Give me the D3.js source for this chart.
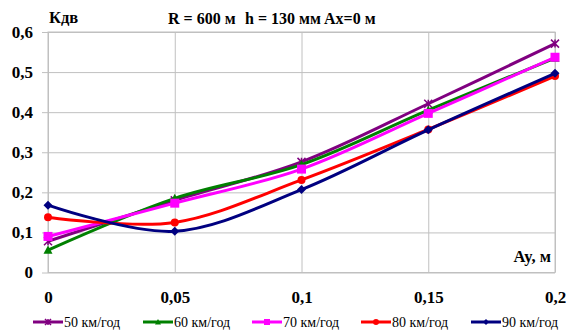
<!DOCTYPE html>
<html>
<head>
<meta charset="utf-8">
<script src="https://cdn.jsdelivr.net/npm/d3@7"></script>
<style>
  html, body { margin: 0; padding: 0; background: #fff; }
  svg { display: block; }
</style>
</head>
<body>
<svg id="chart" width="571" height="331"></svg>
<script>
// Displacement Ay (m) along the x axis
const ayValues = [0, 0.05, 0.1, 0.15, 0.2];
const xTickLabels = ["0", "0,05", "0,1", "0,15", "0,2"];
const yTicks = [0, 0.1, 0.2, 0.3, 0.4, 0.5, 0.6];
const yTickLabels = ["0", "0,1", "0,2", "0,3", "0,4", "0,5", "0,6"];

// Kdv coefficient for each speed
const speedNames = ["50 км/год", "60 км/год", "70 км/год", "80 км/год", "90 км/год"];
const kdv50 = [0.078, 0.180, 0.276, 0.421, 0.571];
const kdv60 = [0.056, 0.185, 0.269, 0.405, 0.535];
const kdv70 = [0.090, 0.173, 0.258, 0.397, 0.537];
const kdv80 = [0.138, 0.125, 0.231, 0.357, 0.490];
const kdv90 = [0.168, 0.103, 0.207, 0.356, 0.497];

const colors = ["#800080", "#008000", "#ff00ff", "#ff0000", "#000080"];
const markers = ["star", "triangle", "square", "circle", "diamond"];

const series = speedNames.map((name, i) => ({
  name,
  values: [kdv50, kdv60, kdv70, kdv80, kdv90][i],
  color: colors[i],
  marker: markers[i]
}));

const FONT = "Liberation Serif";
const svg = d3.select("#chart");
const plot = { left: 48, right: 555, top: 32, bottom: 272.5 };

const x = d3.scaleLinear().domain([0, 0.2]).range([plot.left, plot.right]);
const y = d3.scaleLinear().domain([0, 0.6]).range([plot.bottom, plot.top]);

const gridColor = "#c0c0c0";

// Horizontal gridlines with short outer ticks
const yAxis = d3.axisLeft(y)
  .tickValues(yTicks)
  .tickSize(-(plot.right - plot.left))
  .tickSizeOuter(0)
  .tickFormat((d, i) => yTickLabels[i]);
const gy = svg.append("g").attr("transform", `translate(${plot.left},0)`).call(yAxis)
  .attr("font-family", FONT).attr("font-size", 17).attr("font-weight", "bold");
gy.select(".domain").remove();
gy.selectAll(".tick line").attr("stroke", gridColor).attr("stroke-width", 1)
  .attr("x1", -6);
gy.selectAll(".tick text")
  .attr("x", -15)
  .attr("dy", "0.3em")
  .attr("fill", "#000");

// Vertical gridlines
const xAxis = d3.axisBottom(x)
  .tickValues(ayValues)
  .tickSize(-(plot.bottom - plot.top))
  .tickSizeOuter(0)
  .tickFormat((d, i) => xTickLabels[i]);
const gx = svg.append("g").attr("transform", `translate(0,${plot.bottom})`).call(xAxis)
  .attr("font-family", FONT).attr("font-size", 17).attr("font-weight", "bold");
gx.select(".domain").remove();
gx.selectAll(".tick line").attr("stroke", gridColor).attr("stroke-width", 1);
gx.selectAll(".tick text")
  .attr("y", 30)
  .attr("dy", 0)
  .attr("fill", "#000");

// Plot area frame
svg.append("rect")
  .attr("x", plot.left).attr("y", plot.top)
  .attr("width", plot.right - plot.left).attr("height", plot.bottom - plot.top)
  .attr("fill", "none").attr("stroke", gridColor).attr("stroke-width", 1);

// Smoothed series lines
const line = d3.line()
  .x((d, i) => x(ayValues[i]))
  .y(d => y(d))
  .curve(d3.curveCardinal.tension(0));

function drawMarker(g, type, cx, cy, color, size) {
  const s = size;
  if (type === "star") {
    g.append("path")
      .attr("d", `M${cx - s},${cy - s}L${cx + s},${cy + s}M${cx - s},${cy + s}L${cx + s},${cy - s}M${cx},${cy - s}L${cx},${cy + s}`)
      .attr("stroke", color).attr("stroke-width", 1.5).attr("fill", "none");
  } else if (type === "triangle") {
    g.append("path")
      .attr("d", `M${cx},${cy - s}L${cx + s},${cy + s * 0.8}L${cx - s},${cy + s * 0.8}Z`)
      .attr("fill", color);
  } else if (type === "square") {
    g.append("rect").attr("x", cx - s).attr("y", cy - s)
      .attr("width", 2 * s).attr("height", 2 * s).attr("fill", color);
  } else if (type === "circle") {
    g.append("circle").attr("cx", cx).attr("cy", cy).attr("r", s).attr("fill", color);
  } else if (type === "diamond") {
    g.append("path")
      .attr("d", `M${cx},${cy - s}L${cx + s},${cy}L${cx},${cy + s}L${cx - s},${cy}Z`)
      .attr("fill", color);
  }
}

const markerSize = { star: 4, triangle: 4.5, square: 4.5, circle: 4, diamond: 4.5 };

series.forEach(s => {
  const g = svg.append("g");
  g.append("path")
    .attr("d", line(s.values))
    .attr("fill", "none")
    .attr("stroke", s.color)
    .attr("stroke-width", 3);
  s.values.forEach((v, i) => {
    drawMarker(g, s.marker, x(ayValues[i]), y(v), s.color, markerSize[s.marker]);
  });
});

// Titles
const titles = svg.append("g")
  .attr("font-family", FONT).attr("font-size", 16.5).attr("font-weight", "bold");
titles.append("text").attr("x", 49).attr("y", 23).text("Кдв");
const head = titles.append("text").attr("y", 24).attr("font-size", 16);
head.append("tspan").attr("x", 168).text("R = 600 м");
head.append("tspan").attr("x", 245).text("h = 130 мм");
head.append("tspan").attr("x", 324).text("Ах=0 м");
titles.append("text").attr("x", 551).attr("y", 262)
  .attr("text-anchor", "end")
  .text("Ay, м");

// Legend
const legendText = [64, 174, 283, 392, 502];
const legendY = 322;
const legend = svg.append("g").attr("font-family", FONT).attr("font-size", 14);
series.forEach((s, i) => {
  const g = legend.append("g");
  const tx = legendText[i];
  g.append("line").attr("x1", tx - 31).attr("x2", tx - 1)
    .attr("y1", legendY).attr("y2", legendY)
    .attr("stroke", s.color).attr("stroke-width", 3);
  drawMarker(g, s.marker, tx - 16, legendY, s.color, 3);
  g.append("text").attr("x", tx).attr("y", legendY + 5)
    .text(s.name);
});
</script>
</body>
</html>
